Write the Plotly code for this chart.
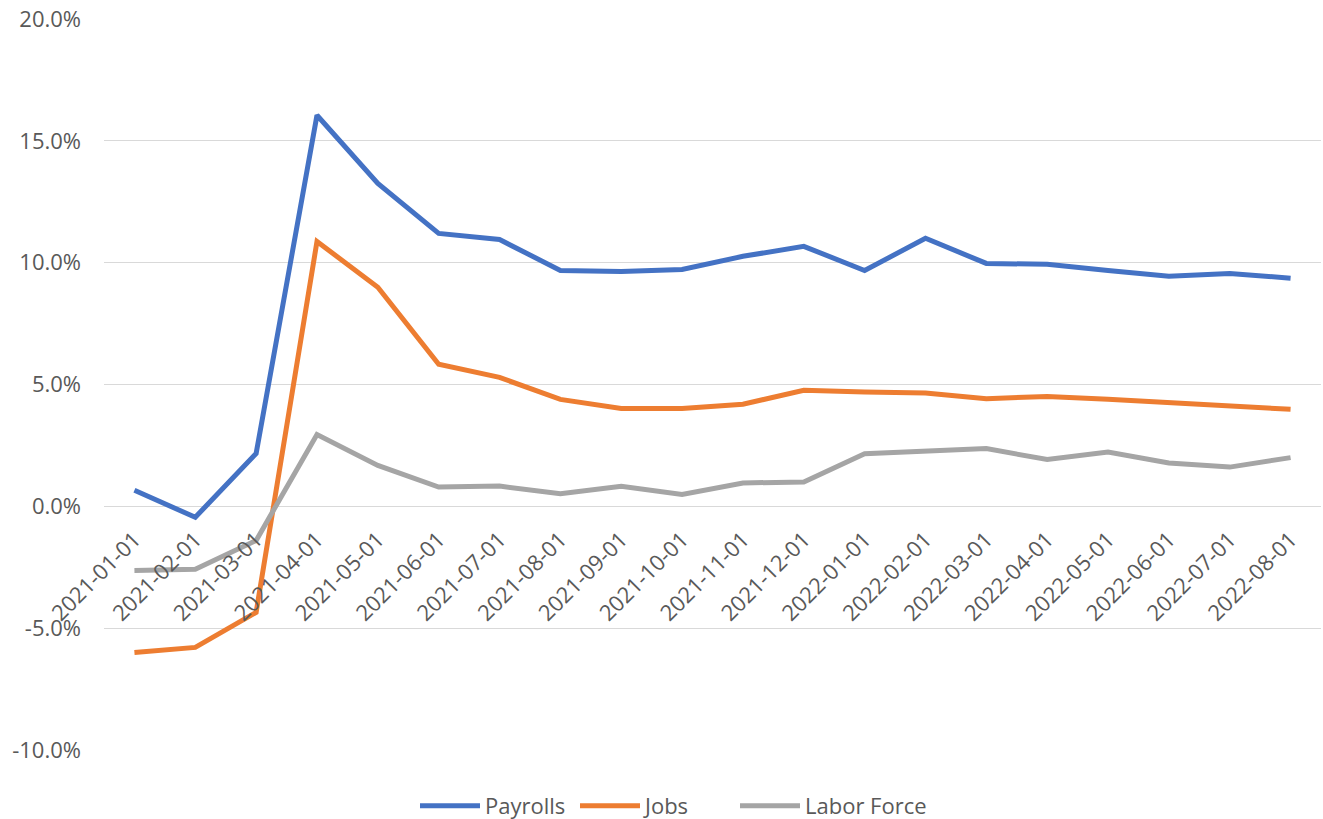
import plotly.graph_objects as go

dates = ["2021-01-01", "2021-02-01", "2021-03-01", "2021-04-01", "2021-05-01",
         "2021-06-01", "2021-07-01", "2021-08-01", "2021-09-01", "2021-10-01",
         "2021-11-01", "2021-12-01", "2022-01-01", "2022-02-01", "2022-03-01",
         "2022-04-01", "2022-05-01", "2022-06-01", "2022-07-01", "2022-08-01"]

payrolls = [0.66, -0.45, 2.17, 16.05, 13.25, 11.2, 10.95, 9.68, 9.64, 9.72,
            10.26, 10.67, 9.68, 11.0, 9.97, 9.93, 9.68, 9.44, 9.56, 9.36]
jobs = [-6.0, -5.79, -4.35, 10.87, 8.99, 5.83, 5.29, 4.39, 4.02, 4.02,
        4.19, 4.76, 4.69, 4.65, 4.42, 4.51, 4.39, 4.25, 4.12, 3.98]
labor_force = [-2.63, -2.58, -1.4, 2.95, 1.68, 0.79, 0.83, 0.52, 0.82, 0.49,
               0.96, 1.0, 2.16, 2.27, 2.37, 1.92, 2.23, 1.78, 1.61, 2.0]

y_ticks = [-10, -5, 0, 5, 10, 15, 20]
y_tick_labels = [f"{v:.1f}%" for v in y_ticks]

series = [("Payrolls", payrolls, "#4472C4"),
          ("Jobs", jobs, "#ED7D31"),
          ("Labor Force", labor_force, "#A5A5A5")]

fig = go.Figure()
for name, vals, color in series:
    fig.add_trace(go.Scatter(x=dates, y=vals, name=name, mode="lines",
                             line=dict(color=color, width=5)))
# invisible spacer entry so the last legend label is not clipped
fig.add_trace(go.Scatter(x=[dates[0]], y=[None], name=" ", mode="lines",
                         line=dict(color="rgba(0,0,0,0)", width=0),
                         hoverinfo="skip"))

font_family = "Open Sans, Liberation Sans, sans-serif"
txt = "#595959"
fig.update_layout(
    width=1323, height=819,
    margin=dict(l=104, r=2, t=19, b=69),
    paper_bgcolor="white", plot_bgcolor="white",
    font=dict(family=font_family, size=22, color=txt),
    showlegend=True,
    legend=dict(orientation="h", x=415 / 1323, xref="container",
                xanchor="left", y=(819 - 806) / 819, yref="container",
                yanchor="middle", itemwidth=60, entrywidth=85,
                entrywidthmode="pixels",
                font=dict(size=22, color=txt), traceorder="normal"),
    xaxis=dict(type="category", range=[-0.5, 19.5], anchor="free",
               position=1/3, tickangle=-45, showgrid=False, zeroline=False,
               showline=False, ticks="", automargin=False,
               ticklabelstandoff=15,
               tickfont=dict(size=22, color=txt)),
    yaxis=dict(range=[-10, 20], tickvals=y_ticks, ticktext=y_tick_labels,
               showgrid=True, gridcolor="#D9D9D9", gridwidth=1,
               zeroline=False, showline=False, ticks="",
               ticklabelstandoff=22, automargin=False,
               tickfont=dict(size=22, color=txt)),
)

fig.write_html("out.html", config={"displayModeBar": False},
               post_script="document.body.style.margin='0px';"
                           "document.body.style.overflow='hidden';")
